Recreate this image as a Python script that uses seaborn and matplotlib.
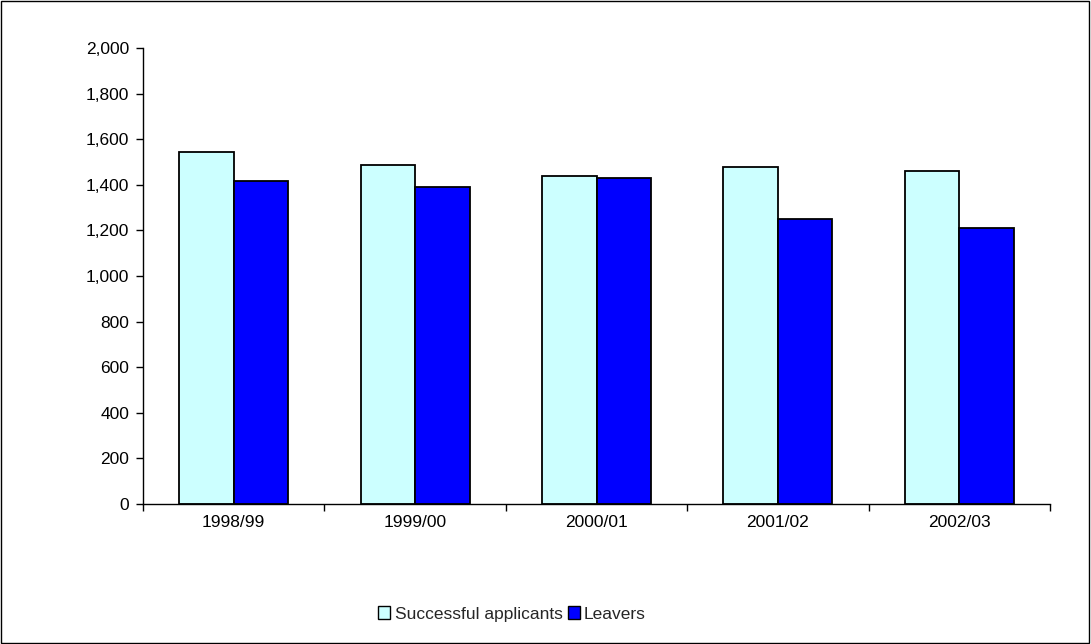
import matplotlib
matplotlib.use("Agg")
import matplotlib.pyplot as plt
import matplotlib.ticker as mticker
from matplotlib.patches import Rectangle
import seaborn as sns
import pandas as pd

years = ["1998/99", "1999/00", "2000/01", "2001/02", "2002/03"]
successful = [1542, 1487, 1437, 1478, 1460]
leavers = [1415, 1390, 1429, 1250, 1209]
series_names = ["Successful applicants", "Leavers"]
colors = ["#CCFFFF", "#0000FF"]

df = pd.DataFrame({
    "year": years * 2,
    "value": successful + leavers,
    "series": [series_names[0]] * len(years) + [series_names[1]] * len(years),
})

sns.set_style("white")
plt.rcParams["font.family"] = ["Liberation Sans", "DejaVu Sans"]

fig = plt.figure(figsize=(10.91, 6.44), dpi=100)
ax = fig.add_axes([143 / 1091, 1 - 504 / 644, (1050 - 143) / 1091, (504 - 48) / 644])

sns.barplot(data=df, x="year", y="value", hue="series", palette=colors, saturation=1,
            width=0.6, edgecolor="black", linewidth=1.3, ax=ax, legend=False)

ax.set_ylim(0, 2000)
ax.set_xlim(-0.5, len(years) - 0.5)
ax.yaxis.set_major_locator(mticker.MultipleLocator(200))
ax.yaxis.set_major_formatter(mticker.FuncFormatter(lambda v, p: f"{int(v):,}"))
ax.set_xlabel("")
ax.set_ylabel("")
for s in ["top", "right"]:
    ax.spines[s].set_visible(False)
for s in ["left", "bottom"]:
    ax.spines[s].set_color("black")
    ax.spines[s].set_linewidth(1.0)

ax.xaxis.set_minor_locator(mticker.FixedLocator([i - 0.5 for i in range(len(years) + 1)]))
ax.tick_params(axis="x", which="major", length=0, labelsize=12.5, pad=8, colors="black")
ax.tick_params(axis="x", which="minor", bottom=True, length=5, width=1, color="black", direction="out")
ax.tick_params(axis="y", which="major", length=5, width=1, color="black", direction="out",
               labelsize=12.5, labelcolor="black", left=True, pad=5)

handles = [Rectangle((0, 0), 1, 1, facecolor=c, edgecolor="black", linewidth=1.0) for c in colors]
fig.legend(handles, series_names, loc="center", bbox_to_anchor=(512 / 1091, 1 - 614 / 644),
           ncol=2, frameon=False, fontsize=12.5, handlelength=0.7, handleheight=0.7,
           handletextpad=0.25, columnspacing=0.3)

fig.patches.append(Rectangle((0.001, 0.001), 0.997, 0.997, transform=fig.transFigure,
                             fill=False, edgecolor="black", linewidth=1.0))

fig.savefig("out.png", dpi=100)
